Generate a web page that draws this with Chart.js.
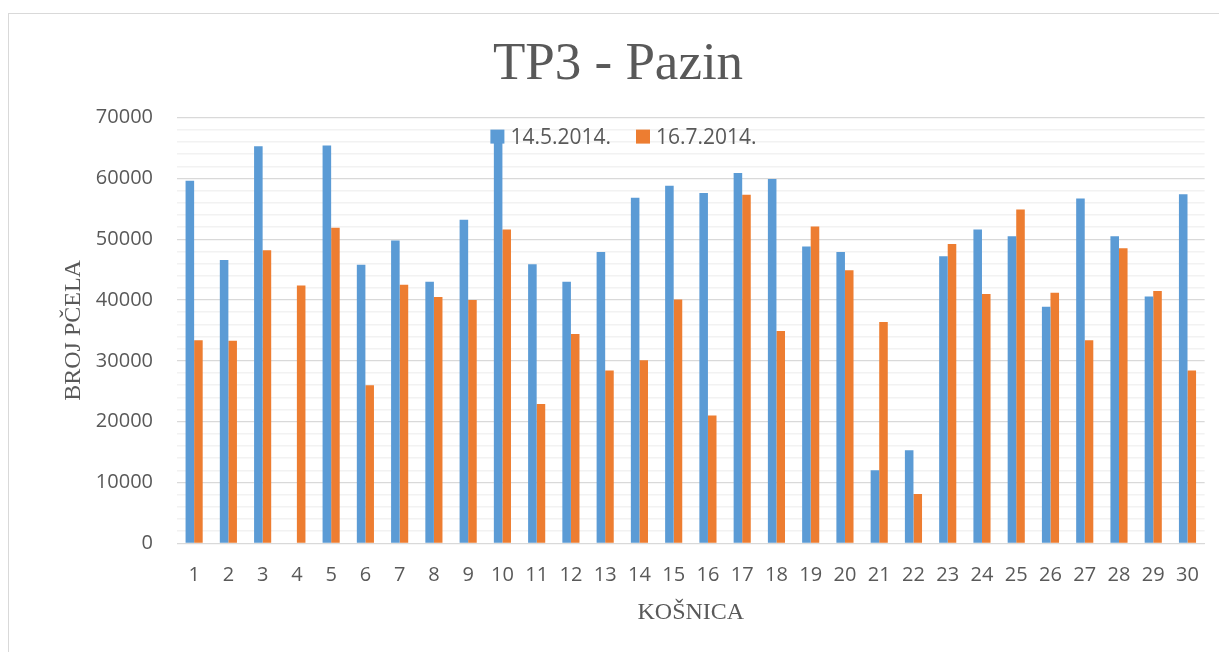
<!DOCTYPE html>
<html lang="hr">
<head>
<meta charset="utf-8">
<title>TP3 - Pazin</title>
<script src="https://cdn.jsdelivr.net/npm/chart.js@4/dist/chart.umd.min.js"></script>
<style>
    html, body { margin: 0; padding: 0; background: #ffffff; overflow: hidden; }
    #okvir {
        position: absolute; left: 8px; top: 13px;
        width: 1240px; height: 680px;
        border: 1px solid #d9d9d9;
        pointer-events: none;
    }
    #omot { position: absolute; left: 0; top: 0; width: 1219px; height: 652px; }
</style>
</head>
<body>
<div id="omot"><canvas id="grafikonPazin"></canvas></div>
<div id="okvir"></div>

<script>
// PODACI (očitano s grafikona)
const kosnice = ['1', '2', '3', '4', '5', '6', '7', '8', '9', '10',
                 '11', '12', '13', '14', '15', '16', '17', '18', '19', '20',
                 '21', '22', '23', '24', '25', '26', '27', '28', '29', '30'];

const pcele14svibnja = [59600, 46600, 65300, null, 65400, 45800, 49800, 43000, 53200, 66000,
                        45900, 43000, 47900, 56800, 58800, 57600, 60900, 59900, 48800, 47900,
                        12000, 15300, 47200, 51600, 50500, 38900, 56700, 50500, 40600, 57400];

const pcele16srpnja = [33400, 33300, 48200, 42400, 51900, 26000, 42500, 40500, 40000, 51600,
                       22900, 34400, 28400, 30100, 40100, 21000, 57300, 34900, 52100, 44900,
                       36400, 8100, 49200, 41000, 54900, 41200, 33400, 48500, 41500, 28400];

const oznakeSerija = ['14.5.2014.', '16.7.2014.'];
const yMax = 70000;
const yKorak = 2000;     // pomoćne linije
const yGlavniKorak = 10000;

const SIVA_TEKST = '#595959';
let grafikon = null;

document.addEventListener("DOMContentLoaded", () => {
    initGrafikon();
});

/* ============================================================
   LEGENDA UNUTAR PODRUČJA GRAFIKONA (kao u Excelu)
   ============================================================ */
const legendaUnutra = {
    id: 'legendaUnutra',
    afterDatasetsDraw(chart) {
        const ctx = chart.ctx;
        const area = chart.chartArea;
        const kvadrat = 14, razmakTekst = 6, razmakStavka = 25;

        ctx.save();
        ctx.font = '21px "Open Sans"';
        ctx.textBaseline = 'middle';

        const stavke = chart.data.datasets.map(ds => ({
            boja: ds.backgroundColor,
            tekst: ds.label,
            sirina: ctx.measureText(ds.label).width
        }));
        const ukupno = stavke.reduce((s, it) => s + kvadrat + razmakTekst + it.sirina, 0)
                     + razmakStavka * (stavke.length - 1);

        let x = chart.width / 2 + 14 - ukupno / 2;
        const y = area.top + 19;

        stavke.forEach(it => {
            ctx.fillStyle = it.boja;
            ctx.fillRect(x, y - kvadrat / 2, kvadrat, kvadrat);
            x += kvadrat + razmakTekst;
            ctx.fillStyle = SIVA_TEKST;
            ctx.fillText(it.tekst, x, y + 1);
            x += it.sirina + razmakStavka;
        });
        ctx.restore();
    }
};

/* ============================================================
   GRAFIKON: BROJ PČELA PO KOŠNICI
   ============================================================ */
function initGrafikon() {
    const ctx = document.getElementById("grafikonPazin");
    if (!ctx) return;

    if (grafikon) grafikon.destroy();

    grafikon = new Chart(ctx, {
        type: 'bar',
        data: {
            labels: kosnice,
            datasets: [
                {
                    label: oznakeSerija[0],
                    data: pcele14svibnja,
                    backgroundColor: '#5b9bd5',
                    categoryPercentage: 0.5,
                    barPercentage: 1.0
                },
                {
                    label: oznakeSerija[1],
                    data: pcele16srpnja,
                    backgroundColor: '#ed7d31',
                    categoryPercentage: 0.5,
                    barPercentage: 1.0
                }
            ]
        },
        options: {
            responsive: true,
            maintainAspectRatio: false,
            animation: false,
            // lijevi razmak pomiče naslov udesno kao u originalu
            layout: { padding: { left: 21, right: 4, top: 0, bottom: 0 } },
            plugins: {
                legend: { display: false },
                tooltip: { enabled: false },
                title: {
                    display: true,
                    text: 'TP3 - Pazin',
                    color: SIVA_TEKST,
                    font: { family: '"Liberation Serif", serif', size: 53, weight: 'normal' },
                    padding: { top: 33, bottom: 21 }
                }
            },
            scales: {
                x: {
                    grid: { display: false, drawTicks: false },
                    border: { display: true, color: '#d9d9d9' },
                    ticks: {
                        color: SIVA_TEKST,
                        font: { family: '"Open Sans", sans-serif', size: 20 },
                        padding: 20,
                        maxRotation: 0,
                        autoSkip: false
                    },
                    title: {
                        display: true,
                        text: 'KOŠNICA',
                        color: SIVA_TEKST,
                        font: { family: '"Liberation Serif", serif', size: 24 },
                        padding: { top: 0, bottom: 25 }
                    },
                    afterFit: (scale) => { scale.height = 108.7; }
                },
                y: {
                    min: 0,
                    max: yMax,
                    grid: {
                        drawTicks: false,
                        color: (c) => (c.tick && c.tick.value % yGlavniKorak === 0) ? '#d9d9d9' : '#f2f2f2',
                        lineWidth: (c) => (c.tick && c.tick.value % yGlavniKorak === 0) ? 1.3 : 1.5
                    },
                    border: { display: false },
                    ticks: {
                        stepSize: yKorak,
                        autoSkip: false,
                        color: SIVA_TEKST,
                        font: { family: '"Open Sans", sans-serif', size: 20 },
                        padding: 24,
                        callback: (v) => (v % yGlavniKorak === 0) ? String(v) : ''
                    },
                    title: {
                        display: true,
                        text: 'BROJ PČELA',
                        color: SIVA_TEKST,
                        font: { family: '"Liberation Serif", serif', size: 24 },
                        padding: { top: 38, bottom: 0 }
                    },
                    afterFit: (scale) => { scale.width = 156; }
                }
            }
        },
        plugins: [legendaUnutra]
    });
}
</script>
</body>
</html>
